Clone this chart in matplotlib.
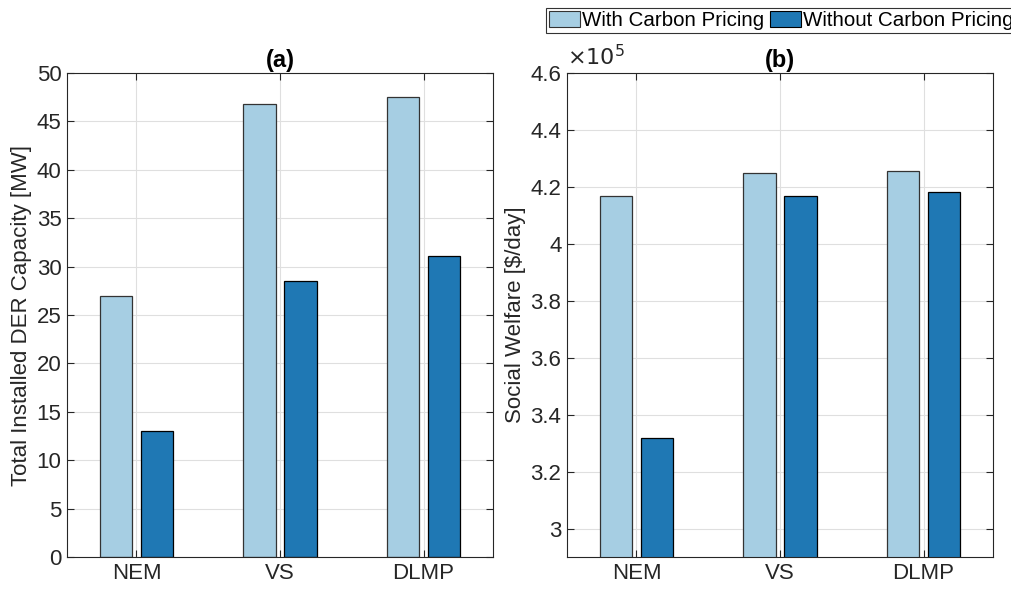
import matplotlib.pyplot as plt
import numpy as np
from matplotlib.patches import Patch
from matplotlib.ticker import FuncFormatter

plt.rcParams['font.family'] = ['Liberation Sans', 'DejaVu Sans']

schemes = ['NEM', 'VS', 'DLMP']
series_names = ['With Carbon Pricing', 'Without Carbon Pricing']
# (a) total installed DER capacity [MW]
der_with = [27.0, 46.8, 47.5]
der_without = [13.0, 28.5, 31.1]
# (b) social welfare [$/day]
sw_with = [416700, 424900, 425500]
sw_without = [331900, 416800, 418200]

c_with = '#a6cee3'
c_without = '#1f78b4'
axcol = '#262626'
fs = 16

fig = plt.figure(figsize=(10.12, 5.9), dpi=100)
ax1 = fig.add_axes([67/1012, 33/590, 426/1012, 484/590])
ax2 = fig.add_axes([567/1012, 33/590, 426/1012, 484/590])

x = np.arange(1, len(schemes) + 1)
off = 0.143
w = 0.228


def style(ax):
    ax.set_xlim(0.516, 3.484)
    ax.set_xticks(x)
    ax.set_xticklabels(schemes)
    ax.grid(True, color='#dfdfdf', linewidth=0.8)
    ax.set_axisbelow(True)
    ax.tick_params(direction='in', top=True, right=True, labelsize=fs,
                   colors=axcol, length=5, width=0.8, pad=4)
    for s in ax.spines.values():
        s.set_color(axcol)
        s.set_linewidth(0.8)


ax1.bar(x - off, der_with, w, color=c_with, edgecolor='#333333', linewidth=0.9)
ax1.bar(x + off, der_without, w, color=c_without, edgecolor='black', linewidth=0.9)
style(ax1)
ax1.set_ylim(0, 50)
ax1.set_yticks(np.arange(0, 51, 5))
ax1.set_ylabel('Total Installed DER Capacity [MW]', fontsize=fs, color=axcol, labelpad=3)
ax1.set_title('(a)', fontsize=17, fontweight='bold', pad=4)

ax2.bar(x - off, np.array(sw_with) / 1e5, w, color=c_with, edgecolor='#333333', linewidth=0.9)
ax2.bar(x + off, np.array(sw_without) / 1e5, w, color=c_without, edgecolor='black', linewidth=0.9)
style(ax2)
ax2.set_ylim(2.9, 4.6)
ax2.set_yticks(np.arange(3.0, 4.61, 0.2))
ax2.yaxis.set_major_formatter(FuncFormatter(lambda v, p: '%g' % round(v, 2)))
ax2.set_ylabel('Social Welfare [\\$/day]', fontsize=fs, color=axcol, labelpad=3)
ax2.set_title('(b)', fontsize=17, fontweight='bold', pad=4)
ax2.text(0.0, 1.005, r'$\times10^5$', transform=ax2.transAxes, fontsize=fs,
         color=axcol, ha='left', va='bottom')

handles = [Patch(facecolor=c_with, edgecolor='#333333', linewidth=0.8),
           Patch(facecolor=c_without, edgecolor='black', linewidth=0.8)]
leg = fig.legend(handles, series_names, loc='upper left',
                 bbox_to_anchor=(546/1012, 1 - 8/590), ncol=2, fontsize=14.8,
                 frameon=True, fancybox=False, edgecolor='black',
                 borderaxespad=0, borderpad=0.15, handlelength=1.5,
                 handleheight=0.8, handletextpad=0.1, columnspacing=0.3)
leg.get_frame().set_linewidth(0.8)

fig.savefig('out.png', dpi=100)
